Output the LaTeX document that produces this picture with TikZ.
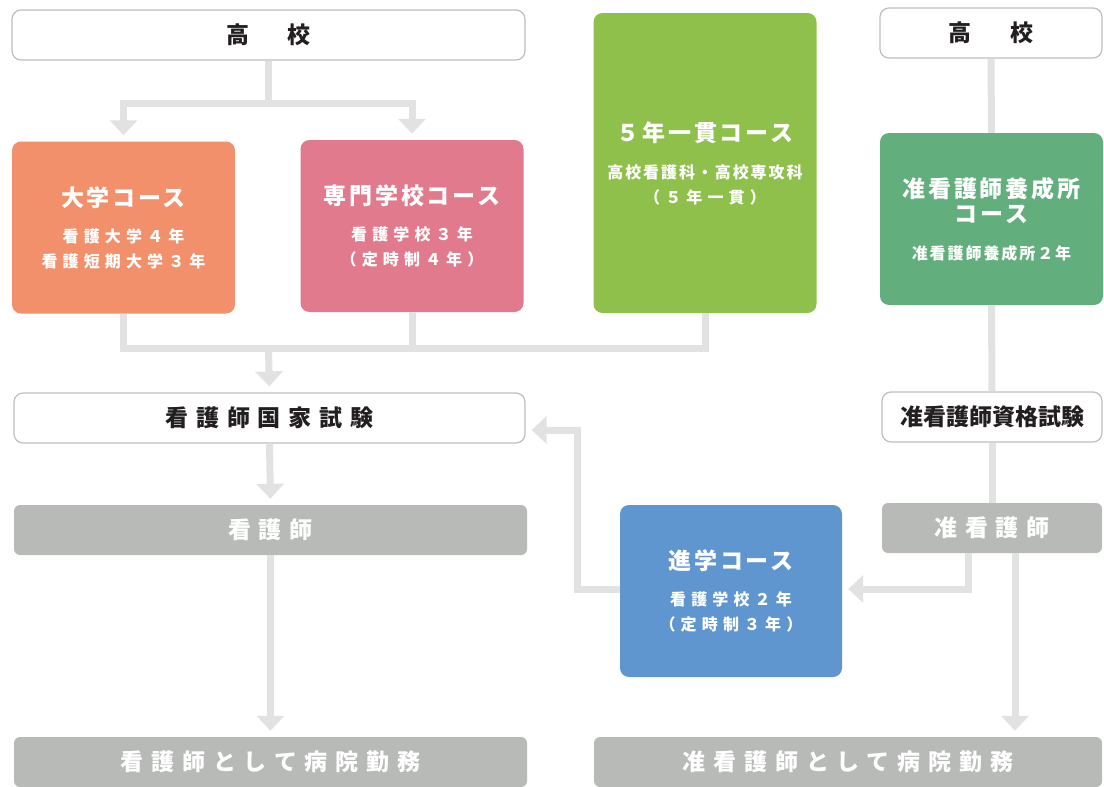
\documentclass[tikz,border=0pt]{standalone}
\usepackage{fontspec}
\newfontfamily\jp{Noto Sans CJK JP}
\newfontfamily\jpwide{Noto Sans CJK JP}[LetterSpace=34]
\newfontfamily\jpmid{Noto Sans CJK JP}[LetterSpace=12]
\newfontfamily\jpsub{Noto Sans CJK JP}[LetterSpace=32]
\usetikzlibrary{arrows.meta}
\definecolor{lineC}{RGB}{226,226,226}
\definecolor{borderC}{RGB}{190,190,190}
\definecolor{inkC}{RGB}{35,31,32}
\definecolor{grayC}{RGB}{184,186,183}
\definecolor{daigakuC}{RGB}{241,144,107}
\definecolor{senmonC}{RGB}{224,122,140}
\definecolor{goikkanC}{RGB}{143,192,75}
\definecolor{junyoseiC}{RGB}{98,174,124}
\definecolor{shingakuC}{RGB}{95,150,207}
\newcommand{\ttl}{\jpmid\bfseries\fontsize{23}{23}\selectfont}
\tikzset{
  conn/.style = {draw=lineC, line width=7pt},
  arr/.style = {conn, -{Triangle[width=27pt,length=15pt]}, shorten >=6pt},
  whitebox/.style = {draw=borderC, line width=1.2pt, fill=white,
    rounded corners=9pt, inner sep=0pt, text=inkC, minimum height=50pt,
    font=\jpwide\bfseries\fontsize{23}{26}\selectfont},
  graybar/.style = {fill=grayC, rounded corners=6pt, inner sep=0pt,
    text=white, minimum height=50pt,
    font=\jpwide\bfseries\fontsize{23}{26}\selectfont},
  course/.style = {rounded corners=9pt, inner sep=0pt, text=white,
    minimum width=223pt, minimum height=172pt, align=center,
    font=\jpsub\bfseries\fontsize{16}{25}\selectfont}
}

\begin{document}
\begin{tikzpicture}[x=1pt,y=-1pt]
  \useasboundingbox (0,0) rectangle (1104,787);

  \node[whitebox, minimum width=513pt] (koko1) at (268.5,35) {高　校};
  \node[whitebox, minimum width=222pt] (koko2) at (991,33) {高　校};

  \node[course, fill=daigakuC] (daigaku) at (123.5,227.5)
    {{\ttl 大学コース}\\[11pt]看護大学４年\\看護短期大学３年};
  \node[course, fill=senmonC] (senmon) at (412,226)
    {{\ttl 専門学校コース}\\[11pt]看護学校３年\\（定時制４年）};
  \node[course, fill=goikkanC, minimum height=300pt] (goikkan) at (705,163)
    {{\ttl ５年一貫コース}\\[12pt]{\jpmid 高校看護科・高校専攻科}\\（５年一貫）};
  \node[course, fill=junyoseiC] (junyosei) at (991.5,219)
    {{\ttl 准看護師養成所}\\{\ttl コース}\\[12pt]{\jpmid 准看護師養成所２年}};

  \node[whitebox, minimum width=511pt] (kokka) at (269.5,418) {看護師国家試験};
  \node[whitebox, minimum width=220pt, font=\jp\bfseries\fontsize{23}{26}\selectfont]
    (junshiken) at (992,417) {准看護師資格試験};

  \node[graybar, minimum width=513pt] (kangoshi) at (270.5,530) {看護師};
  \node[graybar, minimum width=220pt] (junkango) at (992,528) {准看護師};

  \node[course, fill=shingakuC, minimum width=222pt] (shingaku) at (731,591)
    {{\ttl 進学コース}\\[11pt]看護学校２年\\（定時制３年）};

  \node[graybar, minimum width=513pt] (kinmu1) at (270.5,762) {看護師として病院勤務};
  \node[graybar, minimum width=508pt] (kinmu2) at (848,762) {准看護師として病院勤務};

  % left column
  \draw[conn] (koko1.south) -- ++(0,43) coordinate (b1);
  \draw[arr] (b1) -| (daigaku.north);
  \draw[arr] (b1) -| (senmon.north);
  \coordinate (m1) at (268.5,348);
  \draw[conn] (daigaku.south) |- (m1) -| (goikkan.south);
  \draw[conn] (senmon.south) -- (senmon.south |- m1);
  \draw[arr] (m1) -- (kokka.north);
  \draw[arr] (kokka.south) -- (kangoshi.north);
  \draw[arr] (kangoshi.south) -- (kinmu1.north);

  % right column
  \draw[conn] (koko2.south) -- (junyosei.north);
  \draw[conn] (junyosei.south) -- (junshiken.north);
  \draw[conn] (junshiken.south) -- (junkango.north);
  \draw[arr] ([xshift=-24pt]junkango.south) |- ([yshift=2pt]shingaku.east);
  \draw[arr] ([xshift=23pt]junkango.south) -- ([xshift=23pt]junkango.south |- kinmu2.north);
  \coordinate (t1) at (577,430);
  \draw[arr] ([yshift=2pt]shingaku.west) -| (t1) -- (t1 -| kokka.east);
\end{tikzpicture}
\end{document}
